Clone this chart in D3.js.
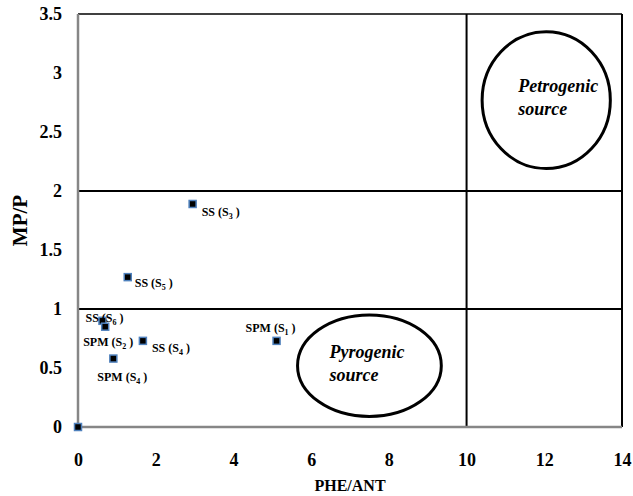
<!DOCTYPE html>
<html>
<head>
<meta charset="utf-8">
<script src="https://cdn.jsdelivr.net/npm/d3@7"></script>
<style>
  body { margin: 0; background: #fff; }
  svg text { font-family: "Liberation Serif", "Times New Roman", serif; font-weight: bold; }
  .axis path, .axis line { display: none; }
</style>
</head>
<body>
<svg class="chart"></svg>
<script>
// ratios per sample
var samples = ["SS", "SS", "SS", "SPM", "SS", "SPM", "SPM", ""];
var sampleSites = ["3", "5", "6", "2", "4", "4", "1", ""];
var pheAnt = [2.95, 1.28, 0.63, 0.70, 1.67, 0.91, 5.11, 0];
var mpP = [1.89, 1.27, 0.90, 0.85, 0.73, 0.58, 0.73, 0];
// label offsets in px (from marker)
var labelDx = [9, 7, -17, -22, 9, -16, -31, 0];
var labelDy = [12, 10, 1, 19, 11, 22, -9, 0];

var xTicks = [0, 2, 4, 6, 8, 10, 12, 14];
var yTicks = [0, 0.5, 1, 1.5, 2, 2.5, 3, 3.5];
var xSplit = [10];
var ySplit = [1, 2];

var zoneNames = [["Pyrogenic", "source"], ["Petrogenic", "source"]];
var zoneCx = [7.5, 12.05];
var zoneCy = [0.52, 2.77];
var zoneRx = [1.85, 1.65];
var zoneRy = [0.43, 0.58];
var zoneTextDx = [-40, -28];

var margin = {top: 14, right: 11, bottom: 69, left: 78},
    width = 633 - margin.left - margin.right,
    height = 496 - margin.top - margin.bottom;

var svg = d3.select(".chart")
    .attr("width", 633)
    .attr("height", 496);

var chart = svg.append("g")
    .attr("transform", "translate(" + margin.left + "," + margin.top + ")");

var x = d3.scaleLinear().domain([0, 14]).range([0, width]);
var y = d3.scaleLinear().domain([0, 3.5]).range([height, 0]);

// frame + split lines
chart.append("line")
    .attr("x1", 0).attr("x2", width).attr("y1", 0).attr("y2", 0)
    .attr("stroke", "#000").attr("stroke-width", 1.5);
chart.append("line")
    .attr("x1", width).attr("x2", width).attr("y1", 0).attr("y2", height)
    .attr("stroke", "#000").attr("stroke-width", 2);

chart.selectAll(".hsplit")
    .data(ySplit)
  .enter().append("line")
    .attr("class", "hsplit")
    .attr("x1", 0).attr("x2", width)
    .attr("y1", function(d) { return y(d); })
    .attr("y2", function(d) { return y(d); })
    .attr("stroke", "#000").attr("stroke-width", 2.2);

chart.selectAll(".vsplit")
    .data(xSplit)
  .enter().append("line")
    .attr("class", "vsplit")
    .attr("x1", function(d) { return x(d); })
    .attr("x2", function(d) { return x(d); })
    .attr("y1", 0).attr("y2", height)
    .attr("stroke", "#000").attr("stroke-width", 2);

// gray axes
chart.append("line")
    .attr("x1", 0).attr("x2", 0).attr("y1", 0).attr("y2", height)
    .attr("stroke", "#868686").attr("stroke-width", 2.5);
chart.append("line")
    .attr("x1", 0).attr("x2", width).attr("y1", height).attr("y2", height)
    .attr("stroke", "#868686").attr("stroke-width", 2.5);

var xAxis = d3.axisBottom(x).tickValues(xTicks).tickSize(0).tickPadding(26);
var yAxis = d3.axisLeft(y).tickValues(yTicks).tickSize(0).tickPadding(16)
    .tickFormat(function(d) { return d; });

chart.append("g")
    .attr("class", "x axis")
    .attr("transform", "translate(0," + height + ")")
    .call(xAxis)
    .selectAll("text")
      .attr("font-size", 18).attr("fill", "#000")
      .style("font-family", "Liberation Serif").style("font-weight", "bold");

chart.append("g")
    .attr("class", "y axis")
    .call(yAxis)
    .selectAll("text")
      .attr("font-size", 18).attr("fill", "#000")
      .style("font-family", "Liberation Serif").style("font-weight", "bold");

svg.append("text")
    .attr("x", margin.left + width / 2)
    .attr("y", 491)
    .attr("text-anchor", "middle")
    .attr("font-size", 16)
    .text("PHE/ANT");

svg.append("text")
    .attr("transform", "translate(27," + (margin.top + y(1.75)) + ") rotate(-90)")
    .attr("text-anchor", "middle")
    .attr("font-size", 21)
    .text("MP/P");

// source zones
var zone = chart.selectAll(".zone")
    .data(zoneNames)
  .enter().append("g")
    .attr("class", "zone");

zone.append("ellipse")
    .attr("cx", function(d, i) { return x(zoneCx[i]); })
    .attr("cy", function(d, i) { return y(zoneCy[i]); })
    .attr("rx", function(d, i) { return x(zoneRx[i]) - x(0); })
    .attr("ry", function(d, i) { return y(0) - y(zoneRy[i]); })
    .attr("fill", "none")
    .attr("stroke", "#000")
    .attr("stroke-width", 3);

zone.append("text")
    .attr("x", function(d, i) { return x(zoneCx[i]) + zoneTextDx[i]; })
    .attr("y", function(d, i) { return y(zoneCy[i]) - 8; })
    .attr("font-size", 18)
    .attr("font-style", "italic")
    .selectAll("tspan")
    .data(function(d) { return d; })
  .enter().append("tspan")
    .attr("x", function() { return this.parentNode.getAttribute("x"); })
    .attr("dy", function(d, i) { return i == 0 ? 0 : 23; })
    .text(function(d) { return d; });

// points
var pt = chart.selectAll(".pt")
    .data(pheAnt)
  .enter().append("g")
    .attr("class", "pt")
    .attr("transform", function(d, i) { return "translate(" + x(d) + "," + y(mpP[i]) + ")"; });

pt.append("rect")
    .attr("x", -3.5).attr("y", -3.5)
    .attr("width", 7).attr("height", 7)
    .attr("fill", "#000")
    .attr("stroke", "#4f81bd")
    .attr("stroke-width", 1.5);

var lbl = pt.filter(function(d, i) { return samples[i] != ""; })
  .append("text")
    .attr("x", function(d) { return labelDx[pheAnt.indexOf(d)]; })
    .attr("y", function(d) { return labelDy[pheAnt.indexOf(d)]; })
    .attr("font-size", 12);

lbl.append("tspan")
    .text(function(d) { return samples[pheAnt.indexOf(d)] + " (S"; });
lbl.append("tspan")
    .attr("font-size", 8)
    .attr("dy", 3)
    .text(function(d) { return sampleSites[pheAnt.indexOf(d)]; });
lbl.append("tspan")
    .attr("dy", -3)
    .text(" )");
</script>
</body>
</html>
